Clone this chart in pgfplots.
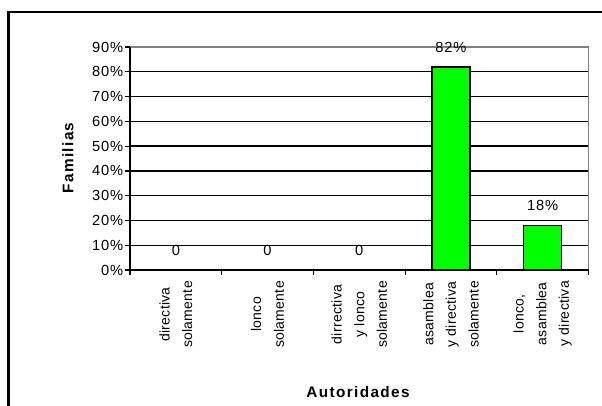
\documentclass[border=0pt]{standalone}
\usepackage{fontspec}
\setmainfont{Liberation Sans}
\newfontfamily\tickf[LetterSpace=6]{Liberation Sans}
\newfontfamily\catf[LetterSpace=2]{Liberation Sans}
\newfontfamily\labf[LetterSpace=9]{Liberation Sans}
\usepackage{pgfplots}
\pgfplotsset{compat=1.18}
\definecolor{bargreen}{HTML}{00FF00}
\definecolor{frame}{HTML}{808080}
\begin{document}
\begin{tikzpicture}
\useasboundingbox (0,0) rectangle (451.5pt,303.75pt);
\fill[white] (0,0) rectangle (451.5pt,303.75pt);
% outer chart frame
\draw[black, line width=1.6pt] (6.4pt,-2pt) -- (6.4pt,294.6pt) -- (455pt,294.6pt);
\begin{axis}[
  at={(97.5pt,101.25pt)}, anchor=south west,
  scale only axis, width=343.9pt, height=167.25pt,
  xmin=-0.5, xmax=4.5, ymin=0, ymax=90,
  axis line style={draw=none},
  clip=false,
  ytick={0,10,...,90},
  yticklabels={0\%,10\%,20\%,30\%,40\%,50\%,60\%,70\%,80\%,90\%},
  ytick pos=left,
  xtick={0,1,2,3,4},
  xticklabels={{directiva\\solamente},{lonco\\solamente},{dirrectiva\\y lonco\\solamente},{asamblea\\y directiva\\solamente},{lonco,\\asamblea\\y directiva}},
  minor xtick={-0.5,0.5,...,4.5},
  xtick pos=bottom,
  tick align=outside,
  major tick length=3.75pt,
  minor tick length=3.75pt,
  x tick style={draw=none},
  minor x tick style={draw=black, line width=0.9pt},
  y tick style={draw=black, line width=0.9pt},
  ymajorgrids,
  grid style={black, line width=1pt},
  yticklabel style={font=\tickf\fontsize{11}{12}\selectfont, inner sep=1.2pt},
  xticklabel style={font=\catf\fontsize{10.5}{17}\selectfont, rotate=90, anchor=east, align=center, xshift=-1pt},
]
\addplot[ybar, fill=bargreen, draw=black, line width=1pt, bar width=28.7pt,
  nodes near coords, point meta=explicit symbolic,
  every node near coord/.style={anchor=center, yshift=14.6pt, font=\tickf\fontsize{11}{12}\selectfont}]
  coordinates {(0,0)[0] (1,0)[0] (2,0)[0] (3,82)[82\%] (4,18)[18\%]};
\draw[frame, line width=1.4pt] (rel axis cs:0,1) -- (rel axis cs:1,1) -- (rel axis cs:1,0);
\draw[black, line width=1.3pt] (rel axis cs:0,1) -- (rel axis cs:0,0) -- (rel axis cs:1,0);
\end{axis}
\node[rotate=90, font=\labf\bfseries\fontsize{11.5}{12}\selectfont] at (51pt,185.25pt) {Familias};
\node[font=\labf\bfseries\fontsize{11.5}{12}\selectfont] at (268.5pt,9.4pt) {Autoridades};
\end{tikzpicture}
\end{document}
